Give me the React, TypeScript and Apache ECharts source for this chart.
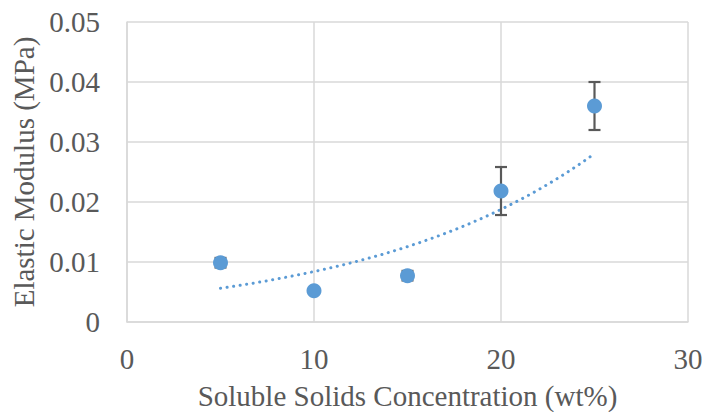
import React, { useEffect, useRef } from "react";
import * as echarts from "echarts";

// Soluble solids concentration (wt%)
const concentrations = [5, 10, 15, 20, 25];
// Elastic modulus (MPa), mean values
const modulus = [0.00988, 0.00522, 0.00772, 0.02183, 0.036];
// Half-width of the error bar (MPa)
const modulusError = [0.0008, 0.0003, 0.0008, 0.004, 0.004];

const xTicks = [0, 10, 20, 30];
const yTicks = [0, 0.01, 0.02, 0.03, 0.04, 0.05];

const BLUE = "#5B9BD5";
const TEXT = "#595959";
const GRID = "#D9D9D9";
const FONT = "'Liberation Serif', 'Times New Roman', serif";

// Least-squares exponential fit y = a * exp(b x) on ln(y)
function exponentialFit(xs: number[], ys: number[]) {
  const n = xs.length;
  const ly = ys.map((y) => Math.log(y));
  const mx = xs.reduce((s, v) => s + v, 0) / n;
  const my = ly.reduce((s, v) => s + v, 0) / n;
  let sxy = 0;
  let sxx = 0;
  for (let i = 0; i < n; i++) {
    sxy += (xs[i] - mx) * (ly[i] - my);
    sxx += (xs[i] - mx) * (xs[i] - mx);
  }
  const b = sxy / sxx;
  const a = Math.exp(my - b * mx);
  return { a, b };
}

function trendPoints() {
  const { a, b } = exponentialFit(concentrations, modulus);
  const x0 = concentrations[0];
  const x1 = concentrations[concentrations.length - 1];
  const steps = 60;
  const pts: number[][] = [];
  for (let i = 0; i <= steps; i++) {
    const x = x0 + ((x1 - x0) * i) / steps;
    pts.push([x, a * Math.exp(b * x)]);
  }
  return pts;
}

export default function App() {
  const ref = useRef<HTMLDivElement>(null);

  useEffect(() => {
    if (!ref.current) return;
    const chart = echarts.init(ref.current, undefined, { renderer: "svg" });

    const errorData = concentrations.map((x, i) => [
      x,
      modulus[i] - modulusError[i],
      modulus[i] + modulusError[i],
    ]);

    chart.setOption({
      animation: false,
      backgroundColor: "#ffffff",
      grid: {
        left: 127,
        right: 14,
        top: 22,
        bottom: 90,
        containLabel: false,
        outerBoundsMode: "none",
      },
      xAxis: {
        type: "value",
        min: xTicks[0],
        max: xTicks[xTicks.length - 1],
        interval: 10,
        name: "Soluble Solids Concentration (wt%)",
        nameLocation: "middle",
        nameGap: 61,
        nameTextStyle: { fontFamily: FONT, fontSize: 29, lineHeight: 26, color: TEXT },
        axisLine: { show: true, lineStyle: { color: GRID, width: 1.5 } },
        axisTick: { show: false },
        axisLabel: { fontFamily: FONT, fontSize: 29, color: TEXT, margin: 22 },
        splitLine: { show: true, lineStyle: { color: GRID, width: 1.5 } },
      },
      yAxis: {
        type: "value",
        min: yTicks[0],
        max: yTicks[yTicks.length - 1],
        interval: 0.01,
        name: "Elastic Modulus (MPa)",
        nameLocation: "middle",
        nameGap: 87,
        nameTextStyle: { fontFamily: FONT, fontSize: 29, color: TEXT },
        axisLine: { show: true, lineStyle: { color: GRID, width: 1.5 } },
        axisTick: { show: false },
        axisLabel: {
          fontFamily: FONT,
          fontSize: 29,
          color: TEXT,
          margin: 27,
          formatter: (v: number) => (v === 0 ? "0" : v.toFixed(2)),
        },
        splitLine: { show: true, lineStyle: { color: GRID, width: 1.5 } },
      },
      series: [
        {
          type: "line",
          data: trendPoints(),
          showSymbol: false,
          symbol: "none",
          smooth: false,
          lineStyle: { color: BLUE, width: 3, type: [0.1, 6.5], cap: "round" },
          z: 2,
        },
        {
          type: "custom",
          data: errorData,
          renderItem: (params: any, api: any) => {
            const x = api.value(0);
            const lo = api.coord([x, api.value(1)]);
            const hi = api.coord([x, api.value(2)]);
            const half = 6;
            const style = { stroke: "#595959", lineWidth: 2.2 };
            return {
              type: "group",
              children: [
                { type: "line", shape: { x1: lo[0], y1: lo[1], x2: hi[0], y2: hi[1] }, style },
                { type: "line", shape: { x1: hi[0] - half, y1: hi[1], x2: hi[0] + half, y2: hi[1] }, style },
                { type: "line", shape: { x1: lo[0] - half, y1: lo[1], x2: lo[0] + half, y2: lo[1] }, style },
              ],
            };
          },
          z: 3,
        },
        {
          type: "scatter",
          data: concentrations.map((x, i) => [x, modulus[i]]),
          symbol: "circle",
          symbolSize: 15,
          itemStyle: { color: BLUE, opacity: 1 },
          z: 4,
        },
      ],
    });

    return () => chart.dispose();
  }, []);

  return (
    <div
      ref={ref}
      style={{ position: "fixed", left: 0, top: 0, width: 702, height: 412, background: "#fff" }}
    />
  );
}
